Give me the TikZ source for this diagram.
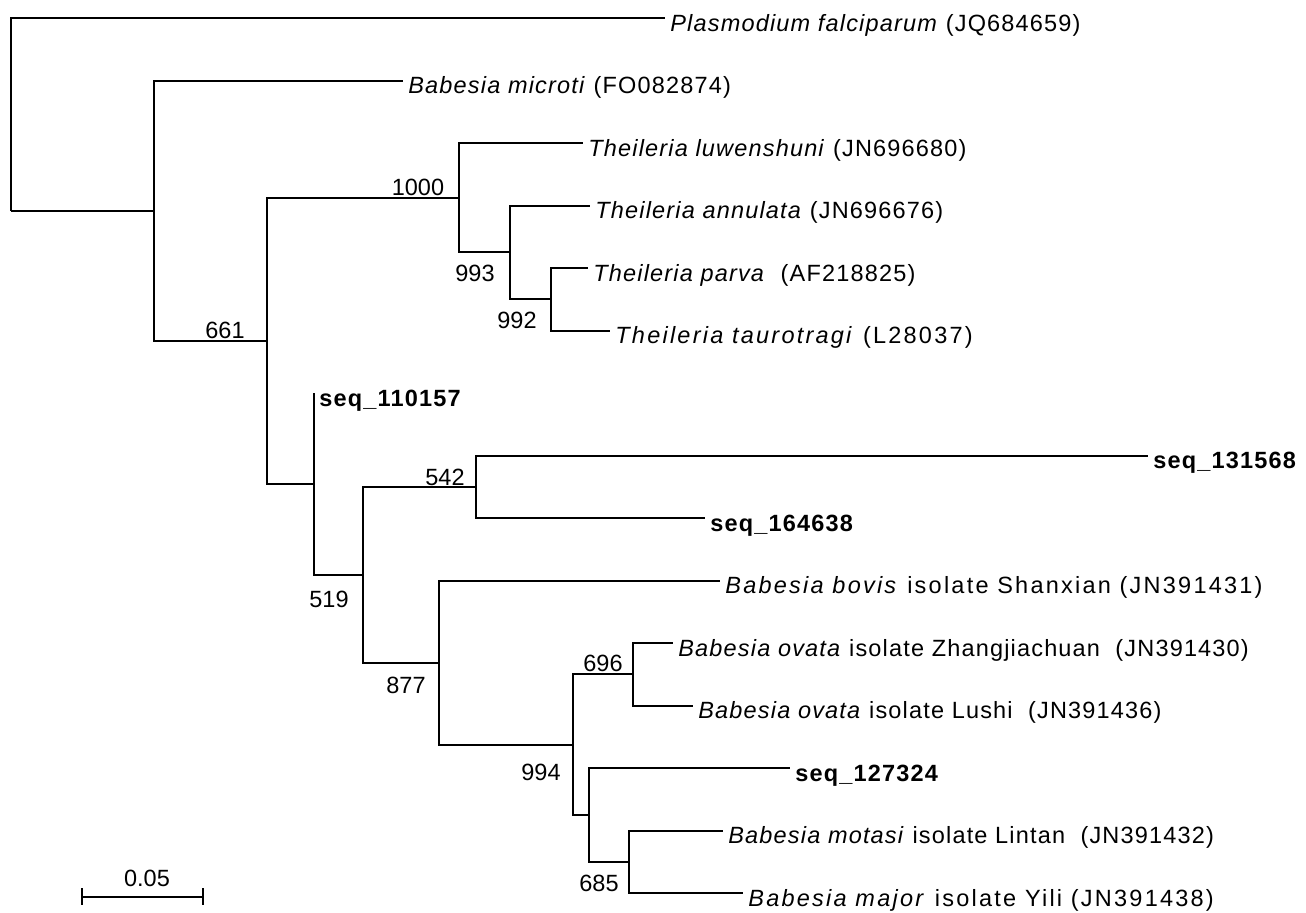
\documentclass[tikz,border=0pt]{standalone}
\usepackage{fontspec}
\setmainfont{Liberation Sans}
\newfontfamily\leaffont{Liberation Sans}[LetterSpace=5]
\newfontfamily\leafwidefont{Liberation Sans}[LetterSpace=9.5]
\usetikzlibrary{positioning}

\begin{document}
\begin{tikzpicture}[
  x=0.5pt, y=-0.5pt,
  font=\fontsize{11.75}{14}\selectfont,
  branch/.style={line width=1pt, black},
  leaf/.style={anchor=base west, inner sep=0pt, xshift=2.5pt, yshift=-6.5pt, font=\leaffont\fontsize{11.75}{14}\selectfont},
  leafwide/.style={leaf, font=\leafwidefont\fontsize{11.75}{14}\selectfont},
  boot/.style={inner sep=0pt}
]
\useasboundingbox (0,0) rectangle (1306,912);

% inner nodes (x of the split, y of the stem)
\coordinate (nR) at (11,211);
\coordinate (nA) at (154,211);
\coordinate (nB) at (267,341);
\coordinate (nC) at (459,197.5);
\coordinate (nE) at (510,252);
\coordinate (nF) at (551,299);
\coordinate (nD) at (314,484);
\coordinate (nG) at (363,575);
\coordinate (nH) at (476,487);
\coordinate (nI) at (439,662.5);
\coordinate (nJ) at (573,744.5);
\coordinate (nK) at (633,674);
\coordinate (nL) at (589,815);
\coordinate (nM) at (629,862);

% tips
\coordinate (tPf) at (665,18);
\coordinate (tBm) at (403,80.5);
\coordinate (tTl) at (583,143);
\coordinate (tTa) at (590,205.5);
\coordinate (tTp) at (588,268);
\coordinate (tTt) at (610,330.5);
\coordinate (tS1) at (314,393);
\coordinate (tS2) at (1148,455.5);
\coordinate (tS3) at (705,518);
\coordinate (tBb) at (720,580.5);
\coordinate (tOz) at (673,643);
\coordinate (tOl) at (693,705.5);
\coordinate (tS4) at (790,768);
\coordinate (tMo) at (723,830.5);
\coordinate (tMa) at (743,893);

% branches
\draw[branch] (nR) |- (tPf);
\draw[branch] (nR) |- (nA);
\draw[branch] (nA) |- (tBm);
\draw[branch] (nA) |- (nB);
\draw[branch] (nB) |- (nC);
\draw[branch] (nB) |- (nD);
\draw[branch] (nC) |- (tTl);
\draw[branch] (nC) |- (nE);
\draw[branch] (nE) |- (tTa);
\draw[branch] (nE) |- (nF);
\draw[branch] (nF) |- (tTp);
\draw[branch] (nF) |- (tTt);
\draw[branch] (nD) |- (tS1);
\draw[branch] (nD) |- (nG);
\draw[branch] (nG) |- (nH);
\draw[branch] (nG) |- (nI);
\draw[branch] (nH) |- (tS2);
\draw[branch] (nH) |- (tS3);
\draw[branch] (nI) |- (tBb);
\draw[branch] (nI) |- (nJ);
\draw[branch] (nJ) |- (nK);
\draw[branch] (nJ) |- (nL);
\draw[branch] (nK) |- (tOz);
\draw[branch] (nK) |- (tOl);
\draw[branch] (nL) |- (tS4);
\draw[branch] (nL) |- (nM);
\draw[branch] (nM) |- (tMo);
\draw[branch] (nM) |- (tMa);

% tip labels
\node[leaf] (lPf) at (tPf) {\textit{Plasmodium falciparum} (JQ684659)};
\node[leaf] (lBm) at (tBm) {\textit{Babesia microti} (FO082874)};
\node[leaf] (lTl) at (tTl) {\textit{Theileria luwenshuni} (JN696680)};
\node[leaf] (lTa) at (tTa) {\textit{Theileria annulata} (JN696676)};
\node[leaf] (lTp) at (tTp) {\textit{Theileria parva}\ \ (AF218825)};
\node[leafwide] (lTt) at (tTt) {\textit{Theileria taurotragi} (L28037)};
\node[leaf] (lS1) at (tS1) {\textbf{seq\_110157}};
\node[leaf] (lS2) at (tS2) {\textbf{seq\_131568}};
\node[leaf] (lS3) at (tS3) {\textbf{seq\_164638}};
\node[leafwide] (lBb) at (tBb) {\textit{Babesia bovis} isolate Shanxian (JN391431)};
\node[leaf] (lOz) at (tOz) {\textit{Babesia ovata} isolate Zhangjiachuan\ \ (JN391430)};
\node[leaf] (lOl) at (tOl) {\textit{Babesia ovata} isolate Lushi\ \ (JN391436)};
\node[leaf] (lS4) at (tS4) {\textbf{seq\_127324}};
\node[leaf] (lMo) at (tMo) {\textit{Babesia motasi} isolate Lintan\ \ (JN391432)};
\node[leafwide] (lMa) at (tMa) {\textit{Babesia major} isolate Yili (JN391438)};

% bootstrap values
\node[boot] (b661) at (225,330) {661};
\node[boot] (b1000) at (418,187) {1000};
\node[boot] (b993) at (475,273) {993};
\node[boot] (b992) at (517,320) {992};
\node[boot] (b542) at (445,477) {542};
\node[boot] (b519) at (329,599) {519};
\node[boot] (b877) at (406,685) {877};
\node[boot] (b696) at (603,663) {696};
\node[boot] (b994) at (541,772) {994};
\node[boot] (b685) at (599,883) {685};

% scale bar
\coordinate (sbL) at (82,897);
\coordinate (sbR) at (203,897);
\draw[branch] (sbL) -- (sbR);
\draw[branch] ([yshift=4.5pt]sbL) -- ([yshift=-4pt]sbL);
\draw[branch] ([yshift=4.5pt]sbR) -- ([yshift=-4pt]sbR);
\node[boot] (sbT) at (147,878) {0.05};
\end{tikzpicture}
\end{document}
